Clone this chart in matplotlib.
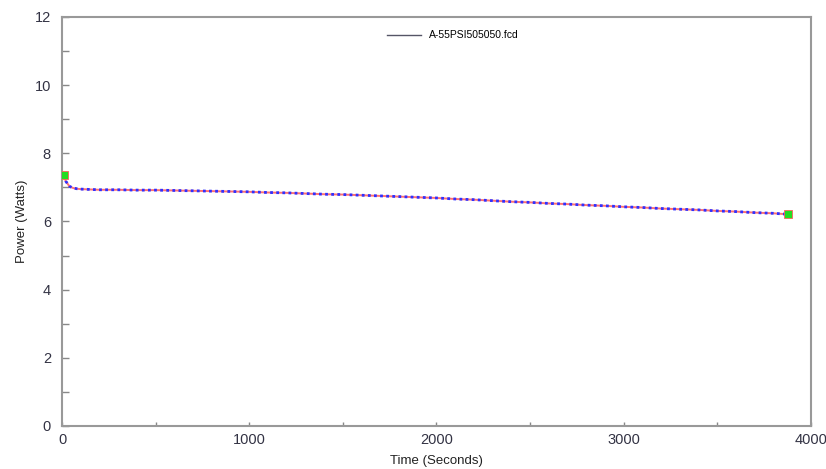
import matplotlib
matplotlib.use("Agg")
import matplotlib.pyplot as plt
from matplotlib.lines import Line2D

plt.rcParams['font.family'] = ['Liberation Sans', 'DejaVu Sans']

# data
time_s = [10, 20, 40, 60, 80, 100, 150, 200, 300, 400, 500, 600, 700, 800, 900,
          1000, 1100, 1200, 1300, 1400, 1500, 1600, 1700, 1800, 1900, 2000,
          2100, 2200, 2300, 2400, 2500, 2600, 2700, 2800, 2900, 3000, 3100,
          3200, 3300, 3400, 3500, 3600, 3700, 3800, 3880]
power_w = [7.36, 7.18, 7.03, 6.98, 6.96, 6.95, 6.94, 6.93, 6.93, 6.92, 6.92,
           6.91, 6.90, 6.89, 6.88, 6.87, 6.85, 6.84, 6.82, 6.80, 6.79, 6.77,
           6.75, 6.73, 6.71, 6.69, 6.66, 6.64, 6.61, 6.58, 6.56, 6.53, 6.51,
           6.48, 6.46, 6.43, 6.41, 6.38, 6.36, 6.34, 6.31, 6.29, 6.26, 6.24,
           6.21]
series_name = "A-55PSI505050.fcd"

fig = plt.figure(figsize=(8.26, 4.69), dpi=100)
ax = fig.add_axes([0.0751, 0.0917, 0.9067, 0.8721])

ax.plot(time_s, power_w, color='#ff7070', linewidth=1.4, zorder=3)
ax.plot(time_s, power_w, color='#3030ff', linewidth=2.0,
        linestyle=(0, (1, 1.2)), zorder=4)
# start / end markers
ax.plot([time_s[0], time_s[-1]], [power_w[0], power_w[-1]], linestyle='none',
        marker='s', markersize=5.5, markerfacecolor='#22dd22',
        markeredgecolor='#ff6060', markeredgewidth=0.6, zorder=5)

ax.set_xlim(0, 4000)
ax.set_ylim(0, 12)
ax.set_xticks([0, 1000, 2000, 3000, 4000])
ax.set_xticks([500, 1500, 2500, 3500], minor=True)
ax.set_yticks([0, 2, 4, 6, 8, 10, 12])
ax.set_yticks([1, 3, 5, 7, 9, 11], minor=True)

for sp in ax.spines.values():
    sp.set_color('#999999')
    sp.set_linewidth(1.5)

ax.tick_params(which='both', direction='in', color='#888888', width=1.0,
               labelsize=10.5, labelcolor='#333344')
ax.tick_params(axis='y', which='both', length=5, pad=8)
ax.tick_params(axis='x', which='both', length=3, pad=5)

ax.set_xlabel("Time (Seconds)", fontsize=9.5, color='#222222', labelpad=6)
ax.set_ylabel("Power (Watts)", fontsize=9.5, color='#222222', labelpad=5)

handle = Line2D([], [], color='#555566', linewidth=1.0)
ax.legend([handle], [series_name], loc='upper center', frameon=False,
          fontsize=7.5, handlelength=3.2, handletextpad=0.8,
          bbox_to_anchor=(0.522, 0.99))

plt.savefig("out.png", dpi=100)
plt.close()
